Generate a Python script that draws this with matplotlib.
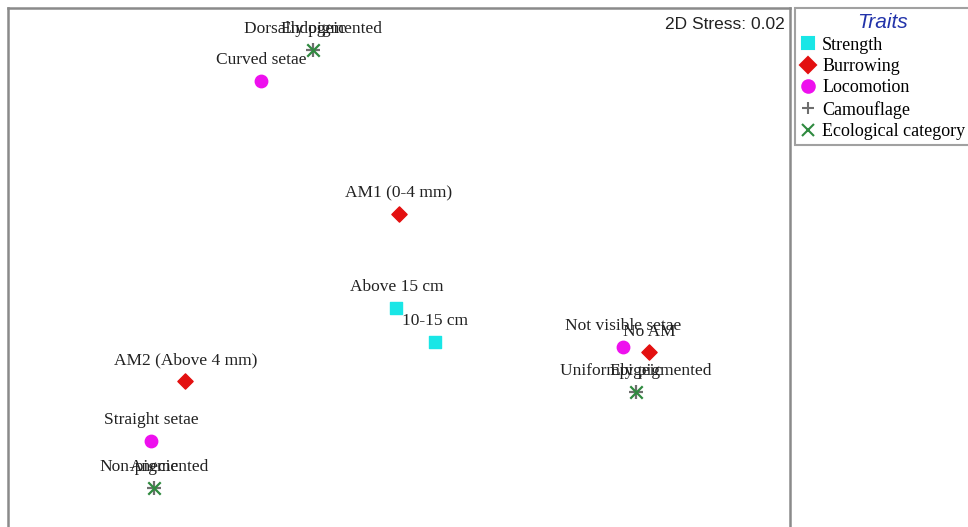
import numpy as np
import matplotlib.pyplot as plt
from matplotlib.lines import Line2D

# NMDS ordination of earthworm traits
strength_labels = ['Above 15 cm', '10-15 cm']
strength_x = [-0.01, 0.14]
strength_y = [-0.14, -0.27]

burrowing_labels = ['AM1 (0-4 mm)', 'AM2 (Above 4 mm)', 'No AM']
burrowing_x = [0.00, -0.82, 0.96]
burrowing_y = [0.22, -0.42, -0.31]

locomotion_labels = ['Curved setae', 'Straight setae', 'Not visible setae']
locomotion_x = [-0.53, -0.95, 0.86]
locomotion_y = [0.73, -0.65, -0.29]

camouflage_labels = ['Dorsally pigmented', 'Non-pigmented', 'Uniformly pigmented']
camouflage_x = [-0.33, -0.94, 0.91]
camouflage_y = [0.85, -0.83, -0.46]

ecological_labels = ['Endogeic', 'Anecic', 'Epigeic']
ecological_x = [-0.33, -0.94, 0.91]
ecological_y = [0.85, -0.83, -0.46]

stress = 0.02

groups = [
    ('Strength', strength_labels, strength_x, strength_y, dict(marker='s', color='#19e6e6', s=70)),
    ('Burrowing', burrowing_labels, burrowing_x, burrowing_y, dict(marker='D', color='#e31010', s=60)),
    ('Locomotion', locomotion_labels, locomotion_x, locomotion_y, dict(marker='o', color='#ee10ee', s=80)),
    ('Camouflage', camouflage_labels, camouflage_x, camouflage_y, dict(marker='+', color='#6e6e6e', s=110, linewidths=1.6)),
    ('Ecological category', ecological_labels, ecological_x, ecological_y, dict(marker='x', color='#2f8a3f', s=80, linewidths=1.6)),
]

fig = plt.figure(figsize=(9.68, 5.27), dpi=100)
ax = fig.add_axes([8 / 968, -8 / 527, 782 / 968, 1.0])
ax.set_xlim(-1.5, 1.5)
ax.set_ylim(-1.01, 1.01)
ax.set_xticks([])
ax.set_yticks([])
for sp in ax.spines.values():
    sp.set_color('#8a8a8a')
    sp.set_linewidth(1.8)

handles = []
for name, labels, xs, ys, style in groups:
    ax.scatter(xs, ys, zorder=3, **style)
    for lab, x, y in zip(labels, xs, ys):
        ax.annotate(lab, (x, y), xytext=(0, 15), textcoords='offset points',
                    ha='center', va='center', fontsize=12.5,
                    family='Liberation Serif', color='#222222')
    mk = style['marker']
    handles.append(Line2D([], [], linestyle='none', marker=mk, color=style['color'],
                          markersize=9 if mk in ('s', 'o') else 8.5,
                          markeredgewidth=1.5, label=name))

ax.text(0.993, 0.968, '2D Stress: %.2f' % stress, transform=ax.transAxes,
        ha='right', va='center', fontsize=12.5, family='Liberation Sans', color='#222222')

leg = fig.legend(handles=handles, loc='upper left', bbox_to_anchor=(795 / 968, 1 - 8 / 527),
                 borderaxespad=0, frameon=True, fancybox=False, handlelength=0.8,
                 handletextpad=0.4, labelspacing=0.24, borderpad=0.3,
                 prop={'family': 'Liberation Serif', 'size': 13})
leg.set_title('Traits', prop={'family': 'Liberation Sans', 'style': 'italic', 'size': 15})
leg.get_title().set_color('#2233aa')
leg.get_frame().set_edgecolor('#8a8a8a')
leg.get_frame().set_linewidth(1.5)

fig.savefig('out.png', dpi=100)
